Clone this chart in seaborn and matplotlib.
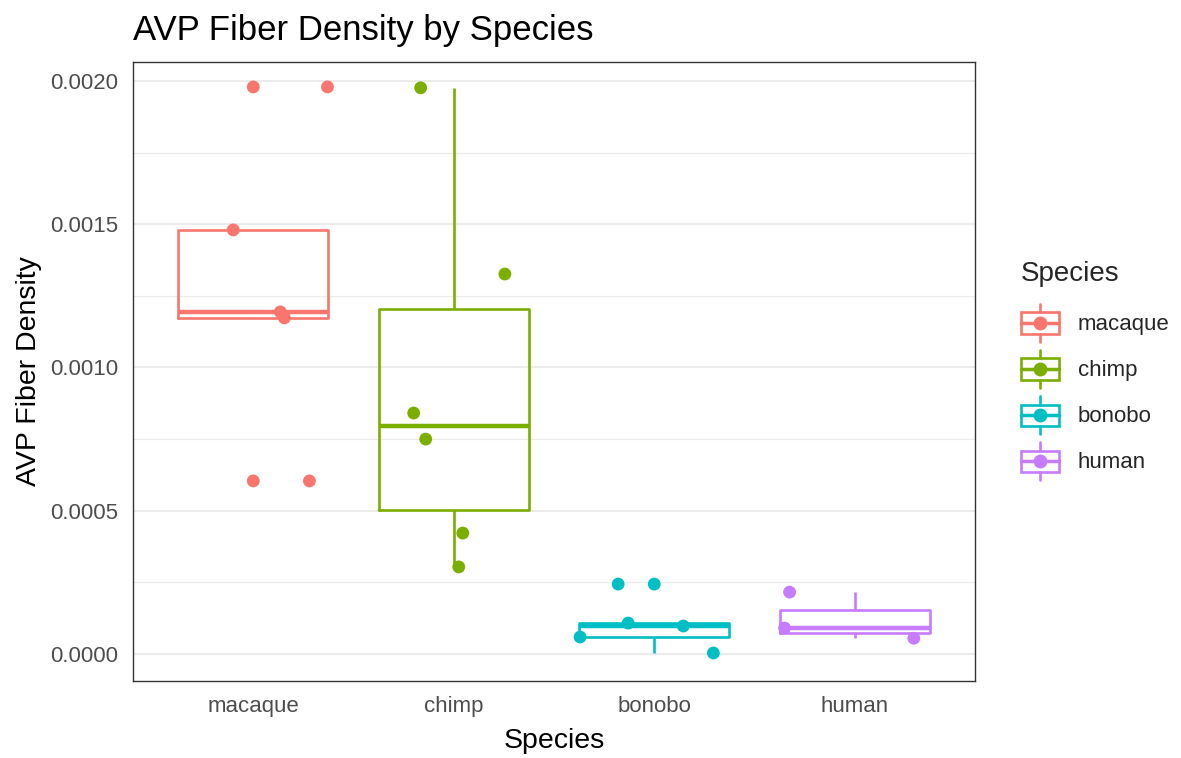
import numpy as np
import pandas as pd
import matplotlib
matplotlib.use("Agg")
import matplotlib.pyplot as plt
import seaborn as sns
from matplotlib.legend_handler import HandlerBase
from matplotlib.patches import Rectangle
from matplotlib.lines import Line2D

# ---- data ----
species = ["macaque", "chimp", "bonobo", "human"]
colors = ["#F8766D", "#7CAE00", "#00BFC4", "#C77CFF"]

macaque = [0.001979, 0.001480, 0.001194, 0.001173, 0.000604]
chimp = [0.001976, 0.001326, 0.000841, 0.000750, 0.000422, 0.000304]
bonobo = [0.000244, 0.000108, 0.0000977, 0.0000593, 0.0000035]
human = [0.000216, 0.0000907, 0.000055]

# horizontal jitter of each point (category units), same order as the values
macaque_jit = [0.37, -0.10, 0.135, 0.155, 0.28]
chimp_jit = [-0.165, 0.255, -0.20, -0.14, 0.045, 0.025]
bonobo_jit = [-0.18, -0.13, 0.145, -0.37, 0.295]
human_jit = [-0.325, -0.35, 0.295]

values = [macaque, chimp, bonobo, human]
jitters = [macaque_jit, chimp_jit, bonobo_jit, human_jit]

rows = []
for i, (sp, vals, jit) in enumerate(zip(species, values, jitters)):
    for v, j in zip(vals, jit):
        rows.append({"Species": sp, "density": v, "xpos": i + j})
df = pd.DataFrame(rows)
df["Species"] = pd.Categorical(df["Species"], categories=species, ordered=True)

# boxplot outliers (1.5 IQR rule), drawn at the box centre like ggplot
out_rows = []
for i, (sp, vals) in enumerate(zip(species, values)):
    q1, q3 = np.percentile(vals, [25, 75])
    iqr = q3 - q1
    for v in vals:
        if v < q1 - 1.5 * iqr or v > q3 + 1.5 * iqr:
            out_rows.append({"Species": sp, "density": v, "xpos": i})
outliers = pd.DataFrame(out_rows)

palette = dict(zip(species, colors))

# ---- plotting ----
sns.set_theme(style="white")
plt.rcParams["font.family"] = ["Liberation Sans", "DejaVu Sans"]

fig = plt.figure(figsize=(11.81, 7.58), dpi=100)
ax = fig.add_axes([133 / 1181, 1 - 681 / 758, (975 - 133) / 1181, (681 - 62) / 758])

# grid (theme_bw look)
ax.set_axisbelow(True)
ax.set_yticks([0.00025, 0.00075, 0.00125, 0.00175], minor=True)
ax.grid(which="major", color="#EBEBEB", lw=1.5)
ax.grid(which="minor", axis="y", color="#EBEBEB", lw=0.8)

sns.boxplot(data=df, x="Species", y="density", hue="Species", palette=palette,
            order=species, hue_order=species, fill=False, width=0.75,
            showfliers=False, showcaps=False, linewidth=1.9, legend=False,
            medianprops={"linewidth": 3.2}, ax=ax)

sns.scatterplot(data=df, x="xpos", y="density", hue="Species", palette=palette,
                hue_order=species, s=85, edgecolor="none", legend=False, ax=ax, zorder=4)
sns.scatterplot(data=outliers, x="xpos", y="density", hue="Species", palette=palette,
                hue_order=species, s=85, edgecolor="none", legend=False, ax=ax, zorder=4)

ax.set_xlim(-0.6, 3.6)
ax.set_ylim(-0.0000942, 0.002066)
ax.set_xticks(range(len(species)))
ax.set_xticklabels(species)
ax.set_yticks([0.0, 0.0005, 0.0010, 0.0015, 0.0020])
ax.set_yticklabels(["0.0000", "0.0005", "0.0010", "0.0015", "0.0020"])

for s in ax.spines.values():
    s.set_color("#333333")
    s.set_linewidth(1.0)
ax.tick_params(which="major", length=4.5, width=1.0, color="#333333",
               labelsize=16, labelcolor="#4D4D4D", pad=6)
ax.tick_params(which="minor", length=0)

ax.set_xlabel("Species", fontsize=20.5, color="black", labelpad=8)
ax.set_ylabel("AVP Fiber Density", fontsize=20.5, color="black", labelpad=6)
ax.set_title("AVP Fiber Density by Species", fontsize=25, loc="left", pad=16, color="black")


# legend keys: ggplot boxplot glyph with a dot
class BoxDotHandler(HandlerBase):
    def create_artists(self, legend, orig_handle, xdescent, ydescent, width, height,
                       fontsize, trans):
        c = orig_handle.get_color()
        x0, y0 = -xdescent, -ydescent
        cx, cy = x0 + width / 2, y0 + height / 2
        box = Rectangle((x0, y0 + height * 0.22), width, height * 0.56,
                        fill=False, edgecolor=c, lw=1.9, transform=trans)
        med = Line2D([x0, x0 + width], [cy, cy], color=c, lw=2.5, transform=trans)
        w1 = Line2D([cx, cx], [y0 + height * 0.78, y0 + height], color=c, lw=1.9,
                    transform=trans)
        w2 = Line2D([cx, cx], [y0, y0 + height * 0.22], color=c, lw=1.9, transform=trans)
        dot = Line2D([cx], [cy], marker="o", markersize=9, color=c, lw=0, transform=trans)
        return [box, med, w1, w2, dot]


handles = [Line2D([], [], color=c) for c in colors]
fig.text(1021 / 1181, 1 - 274 / 758, "Species", fontsize=20, va="center", ha="left")
leg = fig.legend(handles, species, handler_map={Line2D: BoxDotHandler()},
                 loc="upper left", bbox_to_anchor=(1001 / 1181, 1 - 284 / 758),
                 frameon=False, fontsize=16, handlelength=1.7,
                 handleheight=2.26, labelspacing=0.36, handletextpad=0.85)

fig.savefig("out.png", dpi=100)
